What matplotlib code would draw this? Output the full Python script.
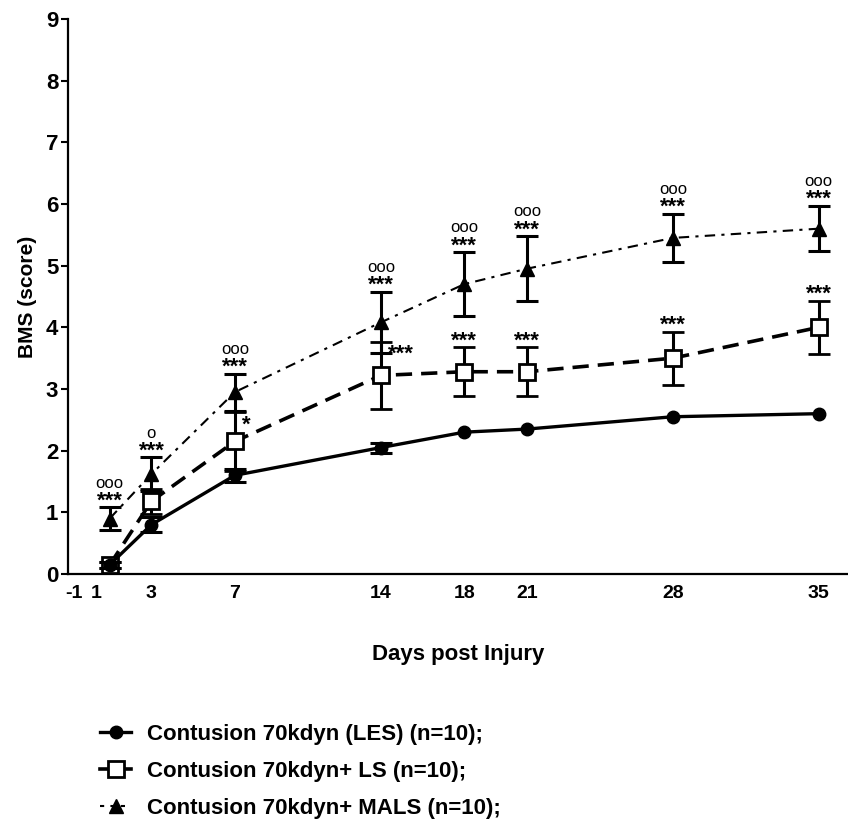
import matplotlib
matplotlib.use("Agg")
import matplotlib.pyplot as plt
from matplotlib.lines import Line2D

plt.rcParams['font.family'] = ['Liberation Sans', 'DejaVu Sans']
plt.rcParams['font.weight'] = 'bold'
plt.rcParams['axes.labelweight'] = 'bold'

# données
jours = [1, 3, 7, 14, 18, 21, 28, 35]
les_moy = [0.15, 0.8, 1.6, 2.05, 2.3, 2.35, 2.55, 2.6]
les_sem = [0.05, 0.12, 0.1, 0.08, 0, 0, 0, 0]
ls_moy = [0.15, 1.18, 2.15, 3.22, 3.28, 3.28, 3.5, 4.0]
ls_sem = [0.05, 0.2, 0.48, 0.55, 0.4, 0.4, 0.43, 0.43]
mals_moy = [0.9, 1.62, 2.95, 4.08, 4.7, 4.95, 5.45, 5.6]
mals_sem = [0.18, 0.27, 0.3, 0.5, 0.52, 0.53, 0.39, 0.37]

# significativité
mals_etoiles = ['***', '***', '***', '***', '***', '***', '***', '***']
mals_cercles = ['ooo', 'o', 'ooo', 'ooo', 'ooo', 'ooo', 'ooo', 'ooo']
ls_etoiles = ['', '', '*', '***', '***', '***', '***', '***']
ls_cote = ['', '', 'droite', 'droite', 'haut', 'haut', 'haut', 'haut']

xtick_labels = ['-1', '1', '3', '7', '14', '18', '21', '28', '35']
xtick_pos = [-0.7, 0.35, 3, 7, 14, 18, 21, 28, 35]

noms = ["Contusion 70kdyn (LES) (n=10);",
        "Contusion 70kdyn+ LS (n=10);",
        "Contusion 70kdyn+ MALS (n=10);"]

fig = plt.figure(figsize=(8.48, 8.19), dpi=100)
ax = fig.add_axes([68/848, 245/819, 780/848, 555/819])

err_kw = dict(ecolor='black', elinewidth=2.2, capsize=8, capthick=2.2, clip_on=False)

ax.errorbar(jours, mals_moy, yerr=mals_sem, color='black', lw=1.5,
            ls=(0, (5, 3, 1.5, 3)), marker='^', ms=10, mfc='black',
            mec='black', zorder=3, **err_kw)
ax.errorbar(jours, ls_moy, yerr=ls_sem, color='black', lw=2.6,
            ls=(0, (4.5, 2.5)), marker='s', ms=11, mfc='white', mec='black',
            mew=2, zorder=4, **err_kw)

# LES : barres d'erreur seulement là où elles dépassent du marqueur
ax.plot(jours, les_moy, color='black', lw=2.4, ls='-', marker='o', ms=9,
        zorder=5, clip_on=False)
idx = [i for i, s in enumerate(les_sem) if s > 0]
ax.errorbar([jours[i] for i in idx], [les_moy[i] for i in idx],
            yerr=[les_sem[i] for i in idx], fmt='none', zorder=5, **err_kw)

for j, m, s, e, c in zip(jours, mals_moy, mals_sem, mals_etoiles, mals_cercles):
    ax.annotate(e, (j, m + s), xytext=(0, -3), textcoords='offset points',
                ha='center', va='bottom', fontsize=16)
    ax.annotate(c, (j, m + s), xytext=(0, 12), textcoords='offset points',
                ha='center', va='bottom', fontsize=12, fontweight='normal')

for j, m, s, e, cote in zip(jours, ls_moy, ls_sem, ls_etoiles, ls_cote):
    if cote == 'haut':
        ax.annotate(e, (j, m + s), xytext=(0, -3), textcoords='offset points',
                    ha='center', va='bottom', fontsize=16)
    elif cote == 'droite':
        ax.annotate(e, (j, m + s), xytext=(5, -17), textcoords='offset points',
                    ha='left', va='bottom', fontsize=16)

ax.set_xlim(-1, 36.4)
ax.set_ylim(0, 9)
ax.set_yticks(range(0, 10))
ax.set_xticks(xtick_pos)
ax.set_xticklabels(xtick_labels)
ax.tick_params(axis='y', labelsize=16, length=5, width=1.5, pad=2)
ax.tick_params(axis='x', labelsize=14, length=0, pad=8)
for sp in ['top', 'right']:
    ax.spines[sp].set_visible(False)
for sp in ['left', 'bottom']:
    ax.spines[sp].set_linewidth(1.6)

ax.set_xlabel("Days post Injury", fontsize=16, labelpad=30)
ax.set_ylabel("BMS (score)", fontsize=15, labelpad=6)

poignees = [
    Line2D([], [], color='black', lw=2.4, ls='-', marker='o', ms=9),
    Line2D([], [], color='black', lw=2.6, ls='-', marker='s', ms=11,
           mfc='white', mew=2),
    Line2D([], [], color='black', lw=1.5, ls=(0, (2, 3)), marker='^', ms=10),
]
fig.legend(poignees, noms, loc='upper left', bbox_to_anchor=(100/848, 1 - 724/819),
           frameon=False, fontsize=16, handlelength=1.4, handletextpad=0.7,
           labelspacing=0.72, borderpad=0, borderaxespad=0)

fig.savefig("out.png", dpi=100)
